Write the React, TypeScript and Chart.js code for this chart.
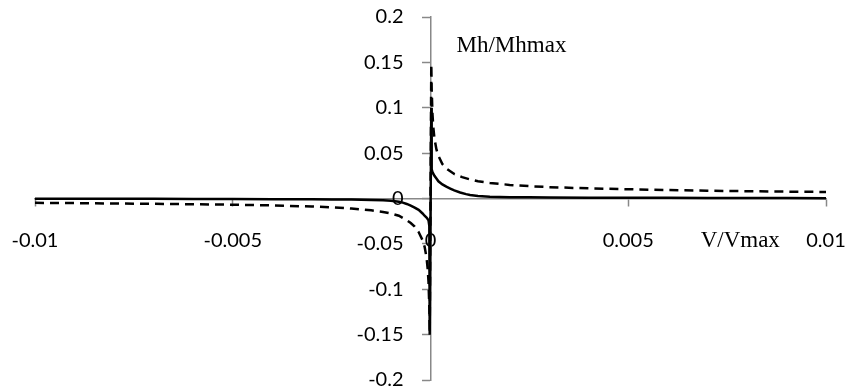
import React, { useEffect, useRef } from "react";
import { Chart, registerables } from "chart.js";

Chart.register(...registerables);

// Tick labels come from the numeric axes (-0.01..0.01 step 0.005, -0.2..0.2 step 0.05)
const xTickStep = 0.005;
const yTickStep = 0.05;

// Solid curve
const solidX = [
  -0.01, -0.009, -0.008, -0.007, -0.006, -0.005, -0.004, -0.003, -0.0025, -0.002, -0.0015, -0.0012,
  -0.001, -0.0008, -0.0007, -0.0006, -0.0005, -0.0004, -0.0003, -0.0002, -0.00015, -0.0001, -0.00005,
  -0.00003, -0.00002,
  0.00002, 0.00003, 0.00005, 0.0001, 0.00015, 0.0002, 0.0003, 0.0004, 0.0005, 0.0006, 0.00075, 0.0009,
  0.001, 0.0012, 0.0015, 0.002, 0.0025, 0.003, 0.004, 0.005, 0.006, 0.007, 0.008, 0.009, 0.01,
];
const solidY = [
  -0.0003, -0.0003, -0.0004, -0.0004, -0.0005, -0.0006, -0.0007, -0.0009, -0.001, -0.0012, -0.0016,
  -0.002, -0.0025, -0.0035, -0.0045, -0.006, -0.0078, -0.01, -0.0125, -0.0165, -0.019, -0.021, -0.024,
  -0.03, -0.15,
  0.1, 0.032, 0.029, 0.025, 0.022, 0.019, 0.0155, 0.013, 0.011, 0.009, 0.0066, 0.0048,
  0.0038, 0.0028, 0.002, 0.0015, 0.0013, 0.0011, 0.0009, 0.0008, 0.0007, 0.0006, 0.0005, 0.0005, 0.0004,
];

// Dashed curve
const dashedX = [
  -0.01, -0.009, -0.008, -0.007, -0.006, -0.005, -0.004, -0.003, -0.0025, -0.002, -0.0015, -0.0012,
  -0.001, -0.0008, -0.0006, -0.0005, -0.0004, -0.0003, -0.0002, -0.00015, -0.0001, -0.00007, -0.00005,
  -0.00003, -0.00002,
  0.00002, 0.00003, 0.00005, 0.00007, 0.0001, 0.00015, 0.0002, 0.0003, 0.0004, 0.0005, 0.0006, 0.0008,
  0.001, 0.0012, 0.0015, 0.002, 0.0025, 0.003, 0.004, 0.005, 0.006, 0.007, 0.008, 0.009, 0.01,
];
const dashedY = [
  -0.0048, -0.0051, -0.0055, -0.0059, -0.0063, -0.0068, -0.0076, -0.0088, -0.0097, -0.011, -0.013,
  -0.0148, -0.0165, -0.019, -0.024, -0.027, -0.031, -0.037, -0.046, -0.053, -0.065, -0.078, -0.092,
  -0.12, -0.148,
  0.148, 0.12, 0.093, 0.079, 0.066, 0.054, 0.047, 0.038, 0.033, 0.03, 0.027, 0.0235,
  0.021, 0.019, 0.0172, 0.015, 0.0136, 0.0125, 0.0112, 0.0102, 0.0093, 0.0086, 0.008, 0.0076, 0.0072,
];

const xLabel = "V/Vmax";
const yLabel = "Mh/Mhmax";

const toPoints = (xs: number[], ys: number[]) => xs.map((x, i) => ({ x, y: ys[i] }));
const fmt = (v: number) => String(parseFloat(Number(v).toFixed(4)));
const TICK_FONT = "20px Lato, 'Open Sans', sans-serif";

const labelPlugin = {
  id: "axisLabels",
  afterDraw(chart: any) {
    const ctx = chart.ctx;
    const xs = chart.scales.x;
    const ys = chart.scales.y;
    const axisX = xs.getPixelForValue(0);
    const axisY = ys.getPixelForValue(0);
    ctx.save();
    ctx.fillStyle = "#000";
    // y tick labels, to the left of the y axis
    ctx.font = TICK_FONT;
    ctx.textAlign = "right";
    ctx.textBaseline = "middle";
    ys.ticks.forEach((t: any) => {
      ctx.fillText(fmt(t.value), axisX - 27, ys.getPixelForValue(t.value));
    });
    // axis titles
    ctx.font = '23px "Liberation Serif", "Times New Roman", serif';
    ctx.textAlign = "left";
    ctx.textBaseline = "alphabetic";
    ctx.fillText(yLabel, axisX + 26, ys.getPixelForValue(0.2) + 35);
    ctx.fillText(xLabel, xs.getPixelForValue(0.00683), axisY + 48);
    ctx.restore();
  },
};

const zeroPad = (s: any) => {
  s.paddingLeft = 0;
  s.paddingRight = 0;
  s.paddingTop = 0;
  s.paddingBottom = 0;
};

export default function App() {
  const ref = useRef<HTMLCanvasElement | null>(null);
  useEffect(() => {
    if (!ref.current) return;
    const tickFont = { family: "Lato, 'Open Sans', sans-serif", size: 20 };
    const chart = new Chart(ref.current, {
      type: "scatter",
      data: {
        datasets: [
          {
            data: toPoints(solidX, solidY),
            showLine: true,
            borderColor: "#000",
            borderWidth: 2.5,
            pointRadius: 0,
            tension: 0,
          },
          {
            data: toPoints(dashedX, dashedY),
            showLine: true,
            borderColor: "#000",
            borderWidth: 2.5,
            borderDash: [9, 6],
            pointRadius: 0,
            tension: 0,
          },
        ],
      },
      options: {
        animation: false,
        responsive: false,
        devicePixelRatio: 1,
        layout: { padding: { left: 35, right: 24, top: 17, bottom: 9 } },
        plugins: { legend: { display: false }, tooltip: { enabled: false } },
        scales: {
          x: {
            type: "linear",
            min: -0.01,
            max: 0.01,
            position: { y: 0 } as any,
            afterFit: (s: any) => { s.height = 0; zeroPad(s); },
            ticks: {
              stepSize: xTickStep,
              color: "#000",
              font: tickFont,
              padding: 23,
              maxRotation: 0,
              callback: (v: any) => fmt(v),
            },
            grid: { drawOnChartArea: false, tickLength: 7, tickColor: "#888", tickWidth: 1.5 },
            border: { color: "#888", width: 1.5 },
          },
          y: {
            type: "linear",
            min: -0.2,
            max: 0.2,
            position: { x: 0 } as any,
            afterFit: (s: any) => { s.width = 0; zeroPad(s); },
            ticks: {
              stepSize: yTickStep,
              color: "rgba(0,0,0,0)",
              font: tickFont,
              callback: (v: any) => fmt(v),
            },
            grid: { drawOnChartArea: false, tickLength: 8, tickColor: "#888", tickWidth: 1.5 },
            border: { color: "#888", width: 1.5 },
          },
        },
      },
      plugins: [labelPlugin],
    });
    return () => chart.destroy();
  }, []);
  return (
    <div style={{ position: "fixed", left: 0, top: 0, width: 850, height: 389, background: "#fff" }}>
      <canvas ref={ref} width={850} height={389} style={{ width: 850, height: 389 }} />
    </div>
  );
}
